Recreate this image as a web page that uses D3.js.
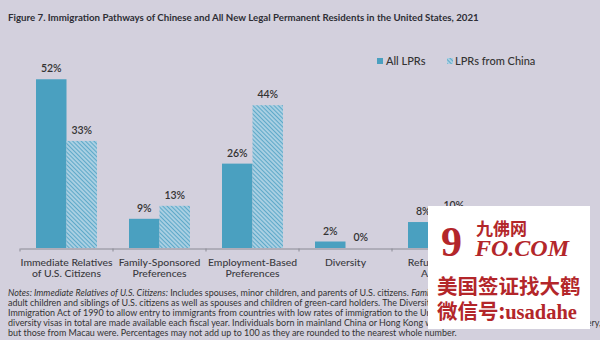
<!DOCTYPE html>
<html><head><meta charset="utf-8">
<script src="https://cdn.jsdelivr.net/npm/d3@7/dist/d3.min.js"></script>
<style>
html,body{margin:0;padding:0;background:#d3d0dd;}
svg{display:block;font-family:Lato,"Open Sans",sans-serif;}
</style></head>
<body><svg id="c" width="600" height="340"></svg>
<script>
const categories = [["Immediate Relatives","of U.S. Citizens"],["Family-Sponsored","Preferences"],["Employment-Based","Preferences"],["Diversity"],["Refugees and","Asylees"]];
const seriesNames = ["All LPRs","LPRs from China"];
const allLPRs = [52, 9, 26, 2, 8];
const lprsChina = [33, 13, 44, 0, 10];
const title = "Figure 7. Immigration Pathways of Chinese and All New Legal Permanent Residents in the United States, 2021";
const notes = [
  [["Notes: Immediate Relatives of U.S. Citizens:",true],[" Includes spouses, minor children, and parents of U.S. citizens. ",false],["Family-Sponsored Preferences:",true],[" Includes",false]],
  [["adult children and siblings of U.S. citizens as well as spouses and children of green-card holders. The Diversity Visa Lottery was created by the",false]],
  [["Immigration Act of 1990 to allow entry to immigrants from countries with low rates of immigration to the United States. The law states that 55,000",false]],
  [["diversity visas in total are made available each fiscal year. Individuals born in mainland China or Hong Kong were not eligible for the diversity visa lottery,",false]],
  [["but those from Macau were. Percentages may not add up to 100 as they are rounded to the nearest whole number.",false]]
];

const svg = d3.select("#c");
const solid = "#4aa0c0", hatchBg = "#a9cfe2", hatchLine = "#5ea9c9";
const defs = svg.append("defs");
const pat = defs.append("pattern").attr("id","hatch").attr("patternUnits","userSpaceOnUse")
  .attr("width",3).attr("height",3).attr("patternTransform","rotate(-45)");
pat.append("rect").attr("width",3).attr("height",3).attr("fill",hatchBg);
pat.append("rect").attr("width",1).attr("height",3).attr("fill",hatchLine);

svg.append("rect").attr("width",600).attr("height",340).attr("fill","#d3d0dd");

svg.append("text").attr("x",8).attr("y",21).attr("font-size",9.7).attr("font-weight","bold")
  .attr("fill","#2e2e35").text(title);

const keys = categories.map(c => c.join(" "));
const x = d3.scaleBand().domain(keys).range([20, 485]).paddingInner(0).paddingOuter(0);
const x1 = d3.scaleBand().domain(seriesNames).range([0, x.bandwidth()]).paddingInner(0).paddingOuter(0.525);
const y = d3.scaleLinear().domain([0, 60]).range([248, 248 - 60*3.245]);

const data = keys.map((k,i) => ({k, vals:[{s:seriesNames[0], v:allLPRs[i]},{s:seriesNames[1], v:lprsChina[i]}]}));

const g = svg.append("g");
const grp = g.selectAll("g.cat").data(data).join("g").attr("transform", d => `translate(${x(d.k)},0)`);
grp.selectAll("rect").data(d => d.vals).join("rect")
  .attr("x", d => x1(d.s)).attr("width", x1.bandwidth())
  .attr("y", d => y(d.v)).attr("height", d => y(0) - y(d.v))
  .attr("fill", (d,i) => i === 0 ? solid : "url(#hatch)");
grp.selectAll("text").data(d => d.vals).join("text")
  .attr("x", d => x1(d.s) + x1.bandwidth()/2).attr("y", d => y(d.v) - 7)
  .attr("text-anchor","middle").attr("font-size",10.5).attr("font-weight",600).attr("fill","#333")
  .text(d => d.v + "%");

// axis
const axis = d3.axisBottom(x).tickSize(0).tickFormat("");
const ag = svg.append("g").attr("transform","translate(0,248.5)").call(axis);
ag.select(".domain").attr("stroke","#8a8a94").attr("stroke-width",1);
ag.selectAll(".tick").remove();
ag.selectAll("line.bt").data(d3.range(keys.length+1)).join("line").attr("class","bt")
  .attr("x1", i => 20 + i*x.step()).attr("x2", i => 20 + i*x.step()).attr("y1",0).attr("y2",3)
  .attr("stroke","#8a8a94");
const lab = svg.append("g").selectAll("text").data(categories).join("text")
  .attr("x", (d,i) => x(keys[i]) + x.bandwidth()/2).attr("y", 265.5)
  .attr("text-anchor","middle").attr("font-size",10.4).attr("font-weight",500).attr("fill","#3a3a40");
lab.selectAll("tspan").data(d => d).join("tspan")
  .attr("x", function(){ return d3.select(this.parentNode).attr("x"); })
  .attr("dy", (d,i) => i === 0 ? 0 : 11.5).text(d => d);

// legend
const lg = svg.append("g").attr("transform","translate(377,58)");
lg.append("rect").attr("x",0).attr("y",0).attr("width",6).attr("height",6).attr("fill",solid);
lg.append("text").attr("x",9).attr("y",7).attr("font-size",11).attr("font-weight",500).attr("fill","#333").text(seriesNames[0]);
lg.append("rect").attr("x",70).attr("y",0).attr("width",6).attr("height",6).attr("fill","url(#hatch)");
lg.append("text").attr("x",78).attr("y",7).attr("font-size",11).attr("font-weight",500).attr("fill","#333").text(seriesNames[1]);

// notes
const nt = svg.append("g").selectAll("text").data(notes).join("text")
  .attr("x",8).attr("y",(d,i) => 296 + i*10).attr("font-size",8.95).attr("fill","#333");
nt.selectAll("tspan").data(d => d).join("tspan")
  .attr("font-style", d => d[1] ? "italic" : "normal").text(d => d[0]);

// watermark overlay
const wm = svg.append("g");
const serif = "'Liberation Serif','DejaVu Serif',serif", cjk = "'Noto Sans CJK SC',sans-serif";
wm.append("rect").attr("x",428).attr("y",206).attr("width",162).attr("height",123).attr("fill","#ffffff");
const red = "#b3262a";
wm.append("text").attr("x",441).attr("y",256).style("font-family",serif).attr("font-weight","bold")
  .attr("font-size",42).attr("fill",red).text("9");
wm.append("text").attr("x",476).attr("y",235).style("font-family",cjk).attr("font-weight","bold")
  .attr("font-size",17).attr("fill",red).text("九佛网");
wm.append("text").attr("x",475).attr("y",256).style("font-family",serif).attr("font-weight","bold")
  .attr("font-style","italic").attr("font-size",24).attr("fill",red).text("FO.COM");
wm.append("text").attr("x",437).attr("y",294).style("font-family",cjk).attr("font-weight","bold")
  .attr("font-size",20.5).attr("fill",red).text("美国签证找大鹤");
const t2 = wm.append("text").attr("x",437).attr("y",319).attr("font-size",20.5).attr("fill",red).attr("font-weight","bold");
t2.append("tspan").style("font-family",cjk).text("微信号:");
t2.append("tspan").style("font-family",serif).text("usadahe");
</script></body></html>
